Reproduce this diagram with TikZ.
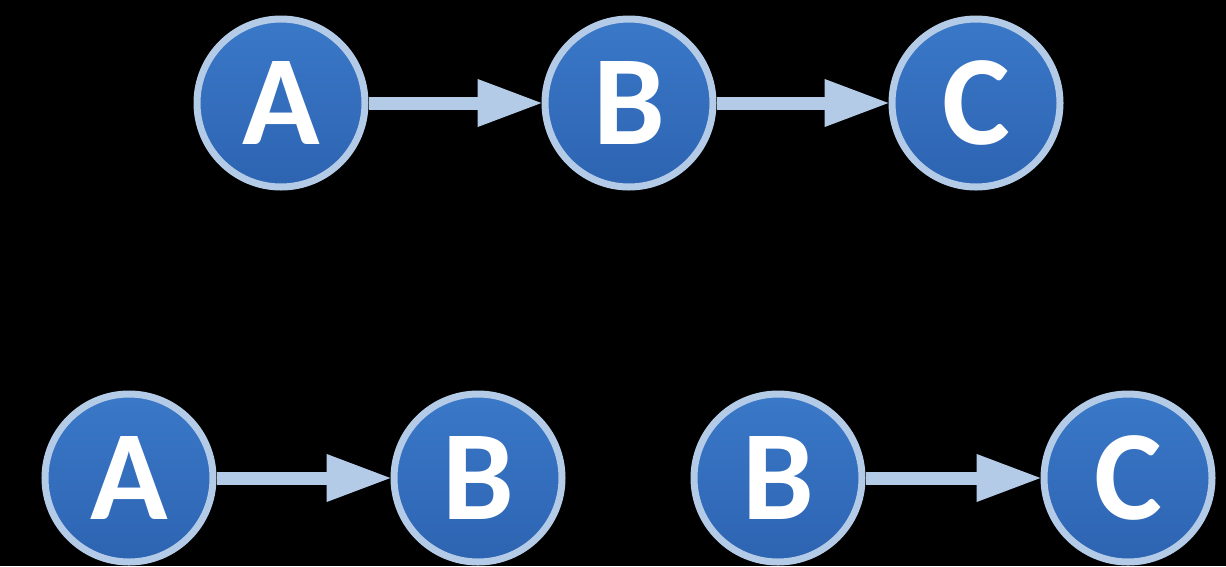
\documentclass[tikz,border=0pt]{standalone}
\usepackage{fontspec}
\setmainfont{Carlito}
\usetikzlibrary{arrows.meta}
\definecolor{nodefill}{RGB}{58,120,200}
\definecolor{nodefilldark}{RGB}{45,100,178}
\definecolor{edgeblue}{RGB}{180,203,232}
\begin{document}
\begin{tikzpicture}[x=1pt,y=-1pt,
  vert/.style={circle,draw=edgeblue,line width=7pt,top color=nodefill,bottom color=nodefilldark,
    minimum size=168pt,inner sep=0pt,text=white,font=\fontsize{128}{128}\selectfont\bfseries},
  conn/.style={draw=edgeblue,line width=13pt,-{Triangle[length=66pt,width=44pt]},shorten >=-2pt}]
\fill[black] (0,0) rectangle (1226,566);
\useasboundingbox (0,0) rectangle (1226,566);
\node[vert] (a1) at (281,103) {A};
\node[vert] (b1) at (629,103) {B};
\node[vert] (c1) at (976,103) {C};
\node[vert] (a2) at (129,478) {A};
\node[vert] (b2) at (478,478) {B};
\node[vert] (b3) at (778,478) {B};
\node[vert] (c2) at (1128,478) {C};
\draw[conn] (a1) -- (b1);
\draw[conn] (b1) -- (c1);
\draw[conn] (a2) -- (b2);
\draw[conn] (b3) -- (c2);
\end{tikzpicture}
\end{document}
